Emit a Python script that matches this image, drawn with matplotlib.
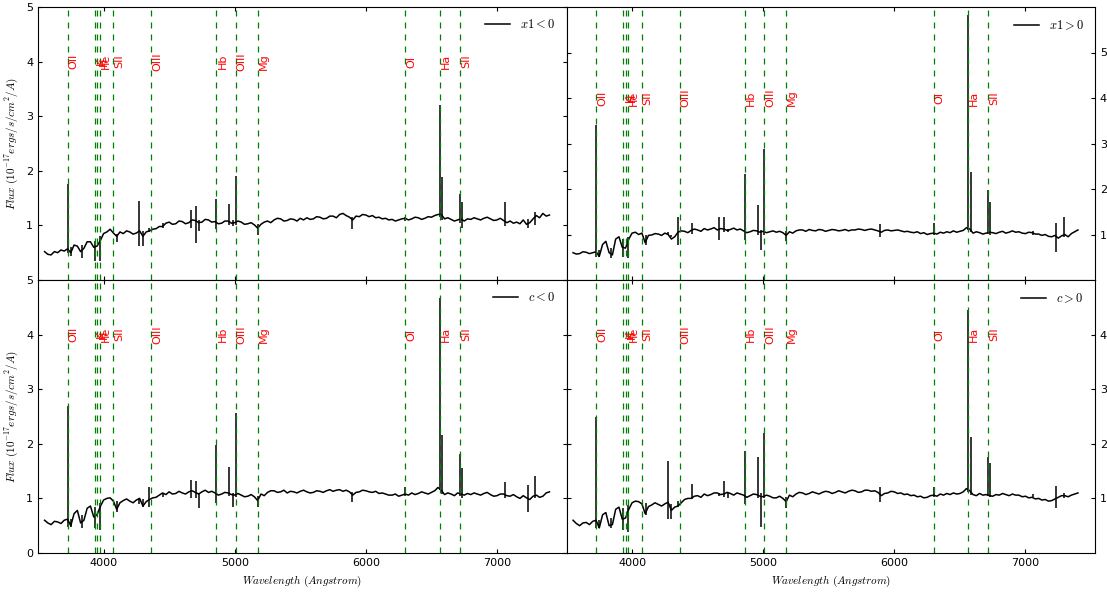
import matplotlib
matplotlib.use("Agg")
import matplotlib.pyplot as plt

plt.rcParams["mathtext.fontset"] = "cm"
plt.rcParams["font.family"] = "DejaVu Sans"
plt.rcParams["font.size"] = 8

# continuum, sampled every 25 A
wave = [3550, 3575, 3600, 3625, 3650, 3675, 3700, 3725, 3750, 3775,
        3800, 3825, 3850, 3875, 3900, 3925, 3950, 3975, 4000, 4025,
        4050, 4075, 4100, 4125, 4150, 4175, 4200, 4225, 4250, 4275,
        4300, 4325, 4350, 4375, 4400, 4425, 4450, 4475, 4500, 4525,
        4550, 4575, 4600, 4625, 4650, 4675, 4700, 4725, 4750, 4775,
        4800, 4825, 4850, 4875, 4900, 4925, 4950, 4975, 5000, 5025,
        5050, 5075, 5100, 5125, 5150, 5175, 5200, 5225, 5250, 5275,
        5300, 5325, 5350, 5375, 5400, 5425, 5450, 5475, 5500, 5525,
        5550, 5575, 5600, 5625, 5650, 5675, 5700, 5725, 5750, 5775,
        5800, 5825, 5850, 5875, 5900, 5925, 5950, 5975, 6000, 6025,
        6050, 6075, 6100, 6125, 6150, 6175, 6200, 6225, 6250, 6275,
        6300, 6325, 6350, 6375, 6400, 6425, 6450, 6475, 6500, 6525,
        6550, 6575, 6600, 6625, 6650, 6675, 6700, 6725, 6750, 6775,
        6800, 6825, 6850, 6875, 6900, 6925, 6950, 6975, 7000, 7025,
        7050, 7075, 7100, 7125, 7150, 7175, 7200, 7225, 7250, 7275,
        7300, 7325, 7350, 7375, 7400]

flux_x1_neg = [0.52, 0.47, 0.46, 0.52, 0.50, 0.55, 0.53, 0.57, 0.50, 0.64,
               0.62, 0.52, 0.58, 0.70, 0.70, 0.60, 0.62, 0.72, 0.85, 0.88,
               0.93, 0.86, 0.80, 0.88, 0.85, 0.90, 0.88, 0.84, 0.86, 0.90,
               0.80, 0.88, 0.90, 0.93, 0.94, 0.98, 0.98, 1.04, 1.06, 1.02,
               1.03, 1.08, 1.07, 1.03, 1.05, 1.10, 1.09, 1.05, 1.06, 1.11,
               1.10, 1.06, 1.07, 1.03, 1.04, 1.08, 1.08, 1.04, 1.05, 1.08,
               1.06, 1.02, 1.03, 1.05, 1.01, 0.95, 1.02, 1.06, 1.08, 1.05,
               1.10, 1.13, 1.12, 1.08, 1.09, 1.12, 1.11, 1.08, 1.13, 1.10,
               1.14, 1.11, 1.12, 1.16, 1.15, 1.12, 1.13, 1.17, 1.17, 1.14,
               1.20, 1.22, 1.18, 1.15, 1.10, 1.17, 1.16, 1.20, 1.19, 1.16,
               1.18, 1.14, 1.15, 1.12, 1.13, 1.10, 1.11, 1.08, 1.10, 1.12,
               1.13, 1.10, 1.12, 1.15, 1.14, 1.11, 1.13, 1.16, 1.15, 1.18,
               1.20, 1.20, 1.12, 1.14, 1.11, 1.08, 1.10, 1.12, 1.08, 1.12,
               1.11, 1.14, 1.12, 1.10, 1.13, 1.15, 1.12, 1.09, 1.10, 1.13,
               1.09, 1.05, 1.08, 1.04, 1.06, 1.03, 1.10, 1.02, 1.05, 1.12,
               1.18, 1.14, 1.22, 1.17, 1.19]
flux_x1_pos = [0.60, 0.57, 0.58, 0.62, 0.61, 0.58, 0.60, 0.62, 0.52, 0.78,
               0.85, 0.60, 0.55, 0.90, 0.95, 0.72, 0.70, 0.90, 1.03, 1.05,
               1.00, 1.03, 0.82, 0.98, 0.99, 1.02, 1.01, 0.98, 1.03, 1.00,
               0.90, 0.95, 1.05, 1.08, 1.07, 1.04, 1.09, 1.12, 1.10, 1.07,
               1.13, 1.10, 1.12, 1.15, 1.10, 1.13, 1.12, 1.09, 1.11, 1.14,
               1.10, 1.12, 1.08, 1.04, 1.06, 1.09, 1.08, 1.05, 1.07, 1.04,
               1.06, 1.08, 1.05, 1.07, 1.04, 0.98, 1.06, 1.03, 1.08, 1.10,
               1.10, 1.07, 1.11, 1.09, 1.08, 1.11, 1.10, 1.07, 1.09, 1.11,
               1.10, 1.08, 1.09, 1.11, 1.08, 1.10, 1.10, 1.12, 1.11, 1.09,
               1.11, 1.12, 1.10, 1.08, 1.05, 1.09, 1.10, 1.08, 1.09, 1.10,
               1.08, 1.06, 1.07, 1.05, 1.04, 1.06, 1.02, 1.04, 1.00, 1.02,
               1.03, 1.01, 1.05, 1.03, 1.06, 1.04, 1.08, 1.05, 1.07, 1.09,
               1.15, 1.12, 1.03, 1.06, 1.04, 1.01, 1.03, 1.05, 1.04, 1.02,
               1.05, 1.07, 1.03, 1.05, 1.08, 1.05, 1.06, 1.03, 1.02, 1.05,
               1.04, 1.01, 1.01, 0.98, 1.00, 0.96, 0.95, 0.98, 0.92, 0.97,
               1.00, 0.95, 1.02, 1.06, 1.10]
flux_c_neg = [0.60, 0.55, 0.52, 0.58, 0.57, 0.54, 0.60, 0.62, 0.50, 0.72,
              0.78, 0.55, 0.60, 0.82, 0.86, 0.66, 0.70, 0.85, 0.97, 1.00,
              1.01, 0.95, 0.80, 0.92, 0.96, 0.99, 0.95, 0.92, 0.97, 1.00,
              0.86, 0.94, 0.98, 1.01, 1.02, 1.06, 1.10, 1.07, 1.12, 1.08,
              1.09, 1.13, 1.10, 1.08, 1.12, 1.14, 1.11, 1.08, 1.12, 1.15,
              1.11, 1.13, 1.10, 1.06, 1.08, 1.11, 1.10, 1.07, 1.06, 1.09,
              1.06, 1.03, 1.04, 1.07, 1.03, 0.96, 1.08, 1.05, 1.11, 1.14,
              1.14, 1.11, 1.12, 1.15, 1.10, 1.13, 1.12, 1.10, 1.13, 1.15,
              1.12, 1.10, 1.11, 1.14, 1.13, 1.11, 1.14, 1.16, 1.13, 1.15,
              1.16, 1.13, 1.15, 1.12, 1.06, 1.11, 1.12, 1.15, 1.14, 1.12,
              1.11, 1.13, 1.09, 1.10, 1.08, 1.06, 1.06, 1.08, 1.04, 1.06,
              1.08, 1.06, 1.10, 1.07, 1.09, 1.12, 1.10, 1.08, 1.11, 1.14,
              1.20, 1.15, 1.07, 1.10, 1.08, 1.05, 1.10, 1.08, 1.06, 1.09,
              1.07, 1.10, 1.08, 1.06, 1.09, 1.11, 1.07, 1.04, 1.05, 1.08,
              1.08, 1.05, 1.04, 1.07, 1.03, 1.00, 1.05, 1.01, 0.98, 1.04,
              1.06, 1.02, 1.04, 1.10, 1.12]
flux_c_pos = [0.60, 0.54, 0.50, 0.55, 0.56, 0.52, 0.58, 0.60, 0.46, 0.70,
              0.74, 0.50, 0.52, 0.80, 0.84, 0.62, 0.64, 0.80, 0.92, 0.95,
              0.94, 0.90, 0.72, 0.85, 0.88, 0.92, 0.89, 0.86, 0.90, 0.93,
              0.78, 0.84, 0.86, 0.92, 0.98, 1.00, 1.00, 1.04, 1.05, 1.02,
              1.08, 1.05, 1.07, 1.10, 1.10, 1.07, 1.08, 1.11, 1.09, 1.06,
              1.10, 1.08, 1.06, 1.02, 1.05, 1.08, 1.07, 1.04, 1.03, 1.06,
              1.04, 1.01, 1.01, 1.04, 1.00, 0.94, 1.06, 1.03, 1.08, 1.11,
              1.10, 1.07, 1.09, 1.12, 1.10, 1.08, 1.11, 1.13, 1.12, 1.09,
              1.11, 1.14, 1.12, 1.10, 1.13, 1.15, 1.14, 1.11, 1.12, 1.15,
              1.15, 1.13, 1.14, 1.11, 1.05, 1.09, 1.10, 1.13, 1.12, 1.09,
              1.10, 1.07, 1.08, 1.05, 1.06, 1.03, 1.04, 1.01, 1.02, 1.05,
              1.06, 1.04, 1.08, 1.06, 1.09, 1.07, 1.10, 1.08, 1.09, 1.12,
              1.18, 1.14, 1.07, 1.05, 1.09, 1.06, 1.07, 1.05, 1.04, 1.07,
              1.06, 1.09, 1.07, 1.05, 1.08, 1.06, 1.06, 1.03, 1.04, 1.01,
              1.02, 0.99, 1.00, 0.97, 0.98, 0.95, 0.96, 0.99, 1.02, 1.05,
              1.05, 1.03, 1.06, 1.08, 1.10]

# narrow features (emission spikes / absorption dips): low and high flux
feat_wave = [3727, 3749, 3838, 3934, 3969, 4106, 4271, 4300, 4347, 4454,
             4666, 4704, 4729, 4861, 4959, 4984, 5007, 5175, 5892, 6300,
             6563, 6583, 6716, 6731, 7058, 7236, 7292]
lo_x1_neg = [0.50, 0.44, 0.40, 0.34, 0.34, 0.70, 0.62, 0.62, 0.88, 0.95,
             0.95, 0.68, 0.90, 0.93, 1.00, 0.98, 1.00, 0.83, 0.93, 1.08,
             1.15, 1.10, 1.05, 0.96, 0.98, 0.95, 1.00]
hi_x1_neg = [1.75, 0.60, 0.65, 0.72, 0.80, 0.85, 1.45, 0.90, 0.95, 1.05,
             1.29, 1.36, 1.10, 1.48, 1.39, 1.10, 1.91, 1.02, 1.15, 1.15,
             3.20, 1.88, 1.57, 1.42, 1.42, 1.12, 1.25]
lo_x1_pos = [0.50, 0.51, 0.48, 0.51, 0.48, 0.77, 0.98, 0.95, 0.77, 1.02,
             0.88, 1.05, 1.05, 0.88, 1.00, 0.66, 1.00, 0.86, 0.95, 1.00,
             1.10, 1.05, 1.02, 1.00, 1.00, 0.62, 0.95]
hi_x1_pos = [3.41, 0.65, 0.70, 0.90, 0.95, 1.00, 1.05, 1.00, 1.39, 1.25,
             1.39, 1.39, 1.12, 2.34, 1.65, 1.10, 2.89, 1.08, 1.23, 1.25,
             5.82, 2.38, 1.98, 1.72, 1.08, 1.25, 1.39]
lo_c_neg = [0.48, 0.48, 0.45, 0.45, 0.42, 0.76, 0.90, 0.84, 0.85, 1.03,
            1.00, 1.00, 0.82, 0.91, 1.05, 0.85, 1.02, 0.85, 0.94, 1.04,
            1.15, 1.08, 1.05, 1.00, 1.00, 0.76, 1.00]
hi_c_neg = [2.69, 0.62, 0.70, 0.85, 0.92, 0.95, 1.00, 0.98, 1.21, 1.08,
            1.34, 1.32, 1.10, 1.98, 1.58, 1.10, 2.57, 1.04, 1.12, 1.21,
            4.67, 2.16, 1.81, 1.55, 1.30, 1.25, 1.41]
lo_c_pos = [0.45, 0.45, 0.45, 0.42, 0.39, 0.70, 0.62, 0.62, 0.85, 0.98,
            1.05, 1.02, 1.00, 0.90, 1.00, 0.48, 1.00, 0.82, 0.94, 1.02,
            1.12, 1.06, 1.04, 1.02, 1.02, 0.82, 1.00]
hi_c_pos = [2.50, 0.60, 0.65, 0.82, 0.88, 0.92, 1.68, 0.90, 0.95, 1.26,
            1.10, 1.31, 1.10, 1.86, 1.76, 1.10, 2.19, 1.02, 1.20, 1.20,
            4.45, 2.13, 1.75, 1.64, 1.08, 1.23, 1.10]

# marked lines
line_names = ["OII", "K", "H", "He", "SII", "OIII", "Hb", "OIII", "Mg", "OI", "Ha", "SII"]
line_waves = [3727, 3934, 3953, 3970, 4072, 4363, 4861, 5007, 5175, 6300, 6563, 6716]

panels = [
    ("$x1<0$", flux_x1_neg, lo_x1_neg, hi_x1_neg, 5),
    ("$x1>0$", flux_x1_pos, lo_x1_pos, hi_x1_pos, 6),
    ("$c<0$", flux_c_neg, lo_c_neg, hi_c_neg, 5),
    ("$c>0$", flux_c_pos, lo_c_pos, hi_c_pos, 5),
]
yticks = [[1, 2, 3, 4, 5], [1, 2, 3, 4, 5], [0, 1, 2, 3, 4, 5], [1, 2, 3, 4]]

fig = plt.figure(figsize=(11.07, 5.92), dpi=100)
x0, xm, x1 = 38 / 1107, 566.5 / 1107, 1095 / 1107
y0, ym, y1 = 1 - 553 / 592, 1 - 280 / 592, 1 - 7 / 592
rects = [[x0, ym, xm - x0, y1 - ym], [xm, ym, x1 - xm, y1 - ym],
         [x0, y0, xm - x0, ym - y0], [xm, y0, x1 - xm, ym - y0]]

for i, (lab, flux, lo, hi, ytop) in enumerate(panels):
    ax = fig.add_axes(rects[i])
    ax.plot(wave, flux, "k-", lw=1.1, label=lab)
    ax.vlines(feat_wave, lo, hi, color="k", lw=1.1)
    for name, w in zip(line_names, line_waves):
        ax.axvline(w, color="g", ls=(0, (4.8, 4.8)), lw=0.9)
        ax.text(w + 8, 4, name, rotation=90, va="center", ha="left", color="r", fontsize=8)
    ax.set_xlim(3500, 7530)
    ax.set_ylim(0, ytop)
    ax.set_xticks([4000, 5000, 6000, 7000])
    ax.set_yticks(yticks[i])
    ax.tick_params(direction="in", top=True, bottom=True, left=True, right=True,
                   length=3.2, labelsize=8)
    if i % 2 == 1:
        ax.tick_params(labelleft=False, labelright=True)
    else:
        ax.set_ylabel(r"$Flux\ (10^{-17}ergs/s/cm^2/A)$", fontsize=8)
    if i < 2:
        ax.tick_params(labelbottom=False)
    else:
        ax.set_xlabel(r"$Wavelength\ (Angstrom)$", fontsize=8)
    ax.legend(loc="upper right", frameon=False, fontsize=9, handlelength=2)

fig.savefig("out.png", dpi=100)
